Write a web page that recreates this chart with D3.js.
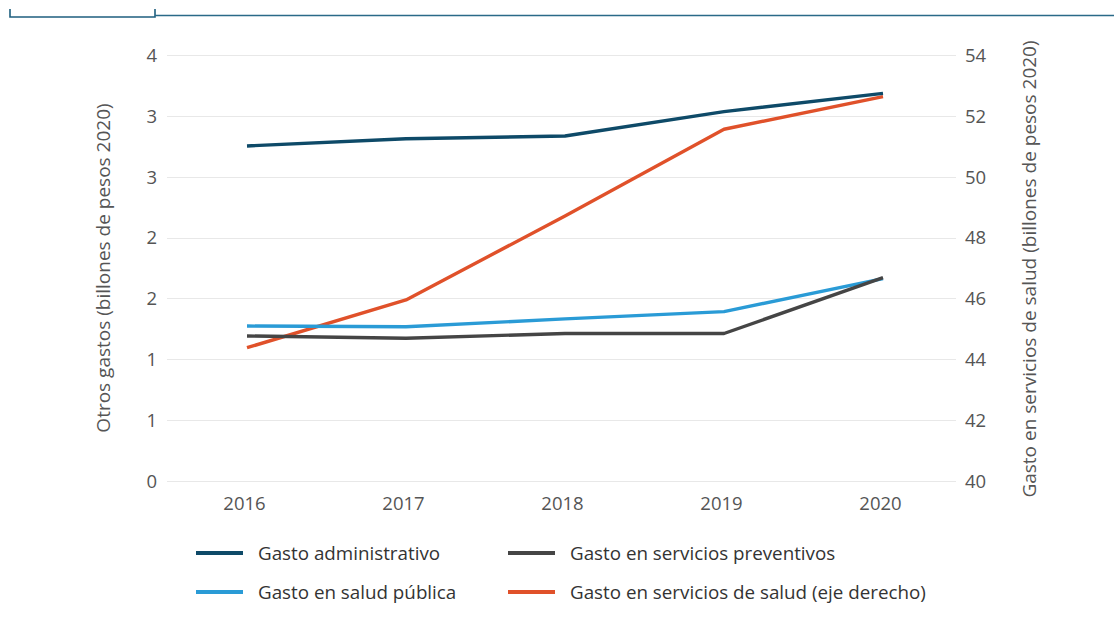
<!DOCTYPE html>
<html><head><meta charset="utf-8">
<script src="https://cdn.jsdelivr.net/npm/d3@7"></script>
<style>
html,body{margin:0;padding:0;background:#fff;}
svg{display:block;font-family:"Open Sans","Lato",sans-serif;}
</style></head>
<body><svg id="c" width="1114" height="624"></svg>
<script>
const years = ["2016","2017","2018","2019","2020"];
const gastoAdministrativo = [3.146, 3.214, 3.239, 3.468, 3.640];
const gastoSaludPublica = [1.455, 1.449, 1.522, 1.590, 1.900];
const gastoPreventivos = [1.362, 1.340, 1.385, 1.385, 1.910];
const gastoServiciosSalud = [44.38, 45.95, 48.71, 51.56, 52.63];
const leftTickLabels = ["0","1","1","2","2","3","3","4"];
const rightTicks = [40,42,44,46,48,50,52,54];

const svg = d3.select("#c");
const x = d3.scalePoint().domain(years).range([247, 883]);
const yL = d3.scaleLinear().domain([0,4]).range([481,55]);
const yR = d3.scaleLinear().domain([40,54]).range([481,55]);
const leftTicks = leftTickLabels.map((d,i)=> i*4/(leftTickLabels.length-1));
const FS = 18.5;

// top decoration
svg.append("path").attr("d","M10,9V17H155V9").attr("fill","none").attr("stroke","#1f5f7f").attr("stroke-width",1.6);
svg.append("line").attr("x1",155).attr("x2",1114).attr("y1",15.5).attr("y2",15.5).attr("stroke","#2a6a88").attr("stroke-width",1.6);

// gridlines
svg.append("g").selectAll("line").data(leftTicks).join("line")
  .attr("x1",167).attr("x2",956).attr("y1",d=>Math.round(yL(d))+0.5).attr("y2",d=>Math.round(yL(d))+0.5)
  .attr("stroke","#e8e8e8").attr("stroke-width",1.2);

// left axis
const gl = svg.append("g").attr("transform","translate(157,0)")
  .call(d3.axisLeft(yL).tickValues(leftTicks).tickSize(0).tickPadding(0).tickFormat((d,i)=>leftTickLabels[i]));
gl.select(".domain").remove();
gl.selectAll("text").attr("font-size",FS).attr("fill","#555").attr("font-family","Open Sans").attr("dy","0.34em");

// right axis
const gr = svg.append("g").attr("transform","translate(965,0)")
  .call(d3.axisRight(yR).tickValues(rightTicks).tickSize(0).tickPadding(0));
gr.select(".domain").remove();
gr.selectAll("text").attr("font-size",FS).attr("fill","#555").attr("font-family","Open Sans").attr("dy","0.34em");

// x axis
const gx = svg.append("g").attr("transform","translate(-3,497)")
  .call(d3.axisBottom(x).tickSize(0).tickPadding(0));
gx.select(".domain").remove();
gx.selectAll("text").attr("font-size",FS).attr("fill","#555").attr("font-family","Open Sans");

// axis titles
svg.append("text").attr("transform","translate(110,268) rotate(-90)").attr("text-anchor","middle")
  .attr("font-size",19).attr("fill","#555").text("Otros gastos (billones de pesos 2020)");
svg.append("text").attr("transform","translate(1036,269) rotate(-90)").attr("text-anchor","middle")
  .attr("font-size",19).attr("fill","#555").text("Gasto en servicios de salud (billones de pesos 2020)");

const series = [
  {name:"Gasto administrativo", vals:gastoAdministrativo, color:"#0e4a68", y:yL},
  {name:"Gasto en salud pública", vals:gastoSaludPublica, color:"#2a9bd6", y:yL},
  {name:"Gasto en servicios preventivos", vals:gastoPreventivos, color:"#454545", y:yL},
  {name:"Gasto en servicios de salud (eje derecho)", vals:gastoServiciosSalud, color:"#e0512a", y:yR}
];
const drawOrder = [series[3], series[1], series[2], series[0]];
drawOrder.forEach(s=>{
  const line = d3.line().x((d,i)=>x(years[i])).y(d=>s.y(d));
  svg.append("path").datum(s.vals).attr("d",line).attr("fill","none")
    .attr("stroke",s.color).attr("stroke-width",3.4).attr("stroke-linejoin","round");
});

// legend
const legendItems = [
  {s:series[0], lx:196, ly:553},
  {s:series[2], lx:508, ly:553},
  {s:series[1], lx:196, ly:592},
  {s:series[3], lx:508, ly:592}
];
const lg = svg.append("g");
legendItems.forEach(it=>{
  lg.append("line").attr("x1",it.lx).attr("x2",it.lx+47).attr("y1",it.ly).attr("y2",it.ly)
    .attr("stroke",it.s.color).attr("stroke-width",4);
  lg.append("text").attr("x",it.lx+62).attr("y",it.ly).attr("dy","0.35em")
    .attr("font-size",18.8).attr("fill","#333").text(it.s.name);
});
</script></body></html>
